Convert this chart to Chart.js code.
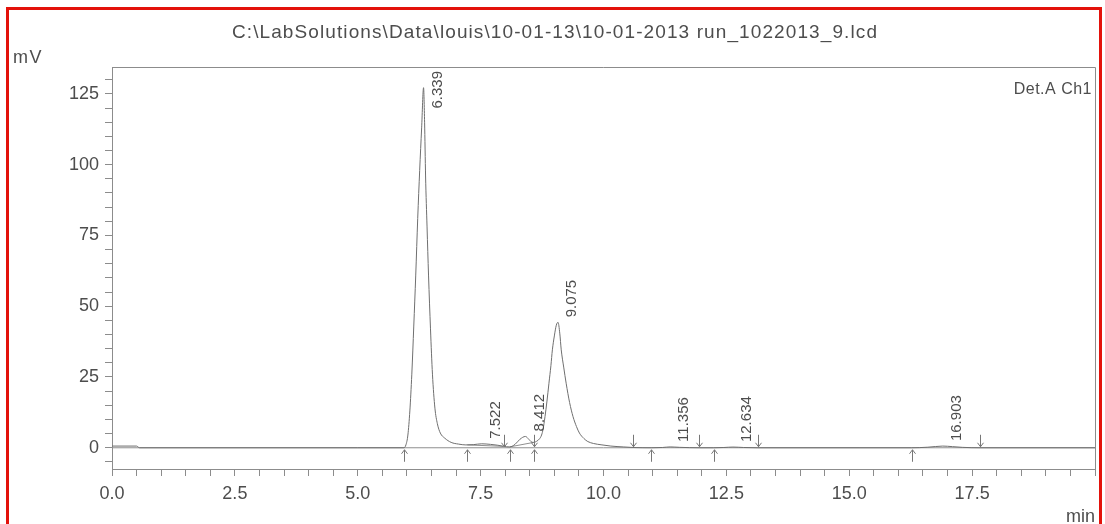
<!DOCTYPE html>
<html>
<head>
<meta charset="utf-8">
<title>Det.A Ch1</title>
<script src="https://cdn.jsdelivr.net/npm/chart.js@4.4.1/dist/chart.umd.min.js"></script>
<style>
    html, body { margin: 0; padding: 0; background: #fff; overflow: hidden; }
    #wrap { position: relative; width: 1105px; height: 524px; overflow: hidden; }
    #frame {
        position: absolute; left: 6px; top: 7px; width: 1096px; height: 560px;
        border: 3px solid #e3120b; box-sizing: border-box; pointer-events: none;
    }
    canvas { position: absolute; left: 0; top: 0; }
</style>
</head>
<body>
<div id="wrap">
    <canvas id="chrom" width="1105" height="524"></canvas>
    <div id="frame"></div>
</div>
<script>
// detector trace, retention time (min) and signal (mV)
const traceMin = [
    0, 0.5, 0.56, 5.0, 5.94, 5.98, 6.02, 6.06, 6.10, 6.14, 6.18, 6.22, 6.26, 6.30,
    6.339, 6.36, 6.38, 6.41, 6.44, 6.48, 6.52, 6.57, 6.62, 6.68, 6.77, 6.90, 7.05,
    7.20, 7.35, 7.522, 7.70, 7.85, 7.97, 8.09, 8.20, 8.30, 8.412, 8.48, 8.54, 8.58,
    8.64, 8.70, 8.74, 8.77, 8.81, 8.85, 8.89, 8.93, 8.96, 9.00, 9.04, 9.075, 9.11,
    9.14, 9.19, 9.24, 9.31, 9.38, 9.45, 9.51, 9.60, 9.68, 9.80, 9.95, 10.15, 10.40,
    10.60, 10.97, 11.20, 11.356, 11.55, 11.95, 12.24, 12.45, 12.634, 12.85, 13.14,
    16.27, 16.60, 16.903, 17.10, 17.30, 17.66, 20.0
];
const traceMv = [
    0.6, 0.6, 0.0, 0.0, 0.0, 1.0, 4.5, 13, 26, 43, 61, 81, 98, 113,
    127.2, 115, 96, 78, 61, 42, 26, 14, 8.5, 5.2, 3.4, 1.9, 1.3,
    1.0, 1.1, 1.4, 1.2, 0.9, 0.5, 0.3, 1.2, 3.0, 4.0, 3.0, 2.0, 1.9,
    2.3, 3.2, 4.5, 6.5, 11, 16.5, 22.8, 29, 34.6, 39.5, 43.3, 44.3, 40.5,
    34.6, 28.5, 22.8, 16, 11, 7.5, 5.2, 3.3, 2.2, 1.5, 1.06, 0.6, 0.3,
    0.1, 0.0, 0.1, 0.3, 0.15, 0.0, 0.0, 0.1, 0.25, 0.1, 0.0,
    0.0, 0.2, 0.6, 0.4, 0.15, 0.0, 0.0
];

// integration baselines (null splits the segments)
const baseMin = [0, 20, null, 7.23, 7.97, null, 8.09, 8.58];
const baseMv = [0, 0, null, 1.0, 0.5, null, 0.3, 1.9];

// detected peaks
const peakMin = [6.339, 7.522, 8.412, 9.075, 11.356, 12.634, 16.903];
const peakMv = [127.2, 1.4, 4.0, 44.3, 0.3, 0.25, 0.6];

// peak start / end markers
const startMarks = [5.94, 7.23, 8.09, 8.58, 10.97, 12.24, 16.27];
const endMarks = [7.97, 8.58, 10.60, 11.95, 13.14, 17.66];

const xLabels = [0, 2.5, 5, 7.5, 10, 12.5, 15, 17.5];
const yLabels = [0, 25, 50, 75, 100, 125];

const FONT = "'Liberation Sans', Arial, sans-serif";
const TEXT = "#4d4d4d";
const AXIS = "#8c8c8c";

function toPoints(xs, ys) {
    return xs.map((x, i) => (x === null ? { x: null, y: null } : { x: x, y: ys[i] }));
}

function drawArrow(ctx, x, tip, dir) {
    // dir 1: pointing down onto the trace, -1: pointing up from below
    ctx.beginPath();
    ctx.moveTo(x, tip - dir * 12);
    ctx.lineTo(x, tip);
    ctx.moveTo(x - 3, tip - dir * 4);
    ctx.lineTo(x, tip);
    ctx.lineTo(x + 3, tip - dir * 4);
    ctx.stroke();
}

const decorations = {
    id: "decorations",
    afterDatasetsDraw(chart) {
        const { ctx, chartArea, scales } = chart;
        const xs = scales.x;
        const ys = scales.y;
        const y0 = ys.getPixelForValue(0);

        ctx.save();
        // top and right edges of the plot frame
        ctx.strokeStyle = AXIS;
        ctx.lineWidth = 1;
        ctx.beginPath();
        ctx.moveTo(chartArea.left, chartArea.top + 0.5);
        ctx.lineTo(chartArea.right + 0.5, chartArea.top + 0.5);
        ctx.lineTo(chartArea.right + 0.5, chartArea.bottom);
        ctx.stroke();

        // peak markers
        ctx.strokeStyle = "#777";
        startMarks.forEach((t) => drawArrow(ctx, Math.round(xs.getPixelForValue(t)) + 0.5, y0 + 2, -1));
        endMarks.forEach((t) => drawArrow(ctx, Math.round(xs.getPixelForValue(t)) + 0.5, y0 - 1, 1));

        // retention time labels
        ctx.fillStyle = TEXT;
        ctx.font = "15px " + FONT;
        ctx.textAlign = "left";
        ctx.textBaseline = "middle";
        peakMin.forEach((t, i) => {
            const label = t.toFixed(3);
            const w = ctx.measureText(label).width;
            const px = xs.getPixelForValue(t) + 14;
            let bottom = ys.getPixelForValue(peakMv[i]) - 5;
            if (bottom - w < chartArea.top + 4) bottom = chartArea.top + 4 + w;
            ctx.save();
            ctx.translate(px, bottom);
            ctx.rotate(-Math.PI / 2);
            ctx.fillText(label, 0, 0);
            ctx.restore();
        });

        // file name, units and channel
        ctx.font = "19px " + FONT;
        ctx.letterSpacing = "1.1px";
        ctx.textAlign = "center";
        ctx.textBaseline = "middle";
        ctx.fillText("C:\\LabSolutions\\Data\\louis\\10-01-13\\10-01-2013 run_1022013_9.lcd", 555, 33);

        ctx.font = "18px " + FONT;
        ctx.letterSpacing = "1.5px";
        ctx.textAlign = "left";
        ctx.fillText("mV", 13, 58);

        ctx.font = "16px " + FONT;
        ctx.letterSpacing = "0.5px";
        ctx.textAlign = "right";
        ctx.fillText("Det.A Ch1", chartArea.right - 3, 90);

        ctx.font = "18px " + FONT;
        ctx.letterSpacing = "0px";
        ctx.textBaseline = "alphabetic";
        ctx.fillText("min", chartArea.right, 522);
        ctx.restore();
    },
};

new Chart(document.getElementById("chrom"), {
    type: "line",
    data: {
        datasets: [
            {
                data: toPoints(traceMin, traceMv),
                borderColor: "#6f6f6f",
                borderWidth: 1,
                pointRadius: 0,
                cubicInterpolationMode: "monotone",
            },
            {
                data: toPoints(baseMin, baseMv),
                borderColor: "#8f8f8f",
                borderWidth: 1,
                pointRadius: 0,
                spanGaps: false,
            },
        ],
    },
    options: {
        responsive: false,
        animation: false,
        devicePixelRatio: 1,
        parsing: false,
        layout: { padding: { top: 67, right: 10, left: 0, bottom: 0 } },
        plugins: {
            legend: { display: false },
            tooltip: { enabled: false },
        },
        scales: {
            x: {
                type: "linear",
                min: 0,
                max: 20,
                afterBuildTicks(scale) {
                    const ticks = [];
                    for (let v = 0; v <= 20; v += 0.5) ticks.push({ value: v });
                    scale.ticks = ticks;
                },
                afterFit(scale) {
                    scale.height = 55;
                },
                ticks: {
                    autoSkip: false,
                    maxRotation: 0,
                    padding: 7,
                    color: TEXT,
                    font: { family: FONT, size: 18 },
                    callback: (v) => (xLabels.includes(v) ? v.toFixed(1) : ""),
                },
                grid: { drawOnChartArea: false, tickLength: 7, color: AXIS },
                border: { color: AXIS },
            },
            y: {
                type: "linear",
                min: -7.5,
                max: 134.5,
                afterBuildTicks(scale) {
                    const ticks = [];
                    for (let v = -5; v <= 130; v += 5) ticks.push({ value: v });
                    scale.ticks = ticks;
                },
                afterFit(scale) {
                    scale.width = 112;
                },
                ticks: {
                    autoSkip: false,
                    padding: 6,
                    color: TEXT,
                    font: { family: FONT, size: 18 },
                    callback: (v) => (yLabels.includes(v) ? String(v) : ""),
                },
                grid: { drawOnChartArea: false, tickLength: 7, color: AXIS },
                border: { color: AXIS },
            },
        },
    },
    plugins: [decorations],
});
</script>
</body>
</html>
